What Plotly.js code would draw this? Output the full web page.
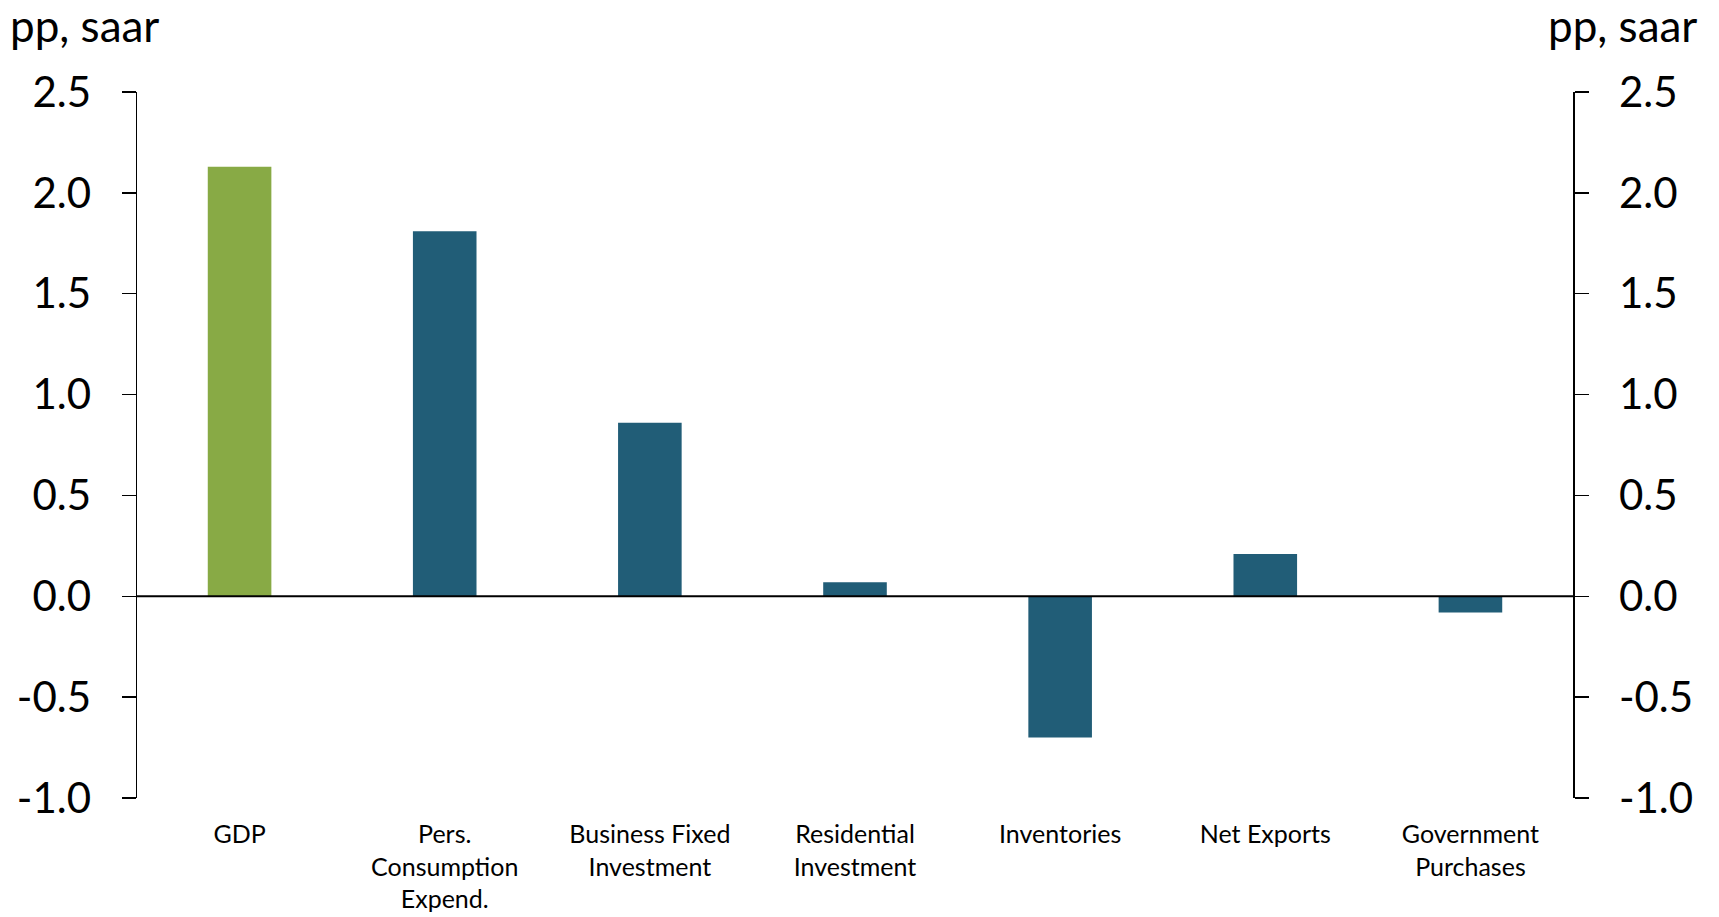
<!DOCTYPE html>
<html>
<head>
<meta charset="utf-8">
<script src="https://cdn.plot.ly/plotly-3.0.1.min.js"></script>
<style>
html,body{margin:0;padding:0;background:#fff;}
#chart{width:1719px;height:917px;}
</style>
</head>
<body>
<div id="chart"></div>
<script>
const categories = ["GDP", "Pers.<br>Consumption<br>Expend.", "Business Fixed<br>Investment", "Residential<br>Investment", "Inventories", "Net Exports", "Government<br>Purchases"];
const values = [2.13, 1.81, 0.86, 0.07, -0.70, 0.21, -0.08];
const tickVals = [-1.0, -0.5, 0.0, 0.5, 1.0, 1.5, 2.0, 2.5];
const tickText = ["-1.0", "-0.5", "0.0", "0.5", "1.0", "1.5", "2.0", "2.5"];
const unitLabel = "pp, saar";

const GREEN = "#88AA45";
const BLUE = "#215D77";
const FONT = "Lato, 'Open Sans', sans-serif";

const colors = categories.map((c, i) => i === 0 ? GREEN : BLUE);

const traces = [
  {
    type: "bar",
    x: categories,
    y: values,
    width: 0.31,
    marker: {color: colors, line: {width: 0}},
    hoverinfo: "x+y",
    yaxis: "y"
  },
  {
    type: "scatter",
    mode: "markers",
    x: categories,
    y: values,
    marker: {opacity: 0, size: 1},
    hoverinfo: "skip",
    yaxis: "y2",
    showlegend: false
  }
];

const yCommon = {
  range: [-1.0, 2.5],
  tickvals: tickVals,
  ticktext: tickText,
  ticks: "outside",
  ticklen: 14,
  tickwidth: 1.5,
  tickcolor: "#000",
  showline: true,
  linecolor: "#000",
  linewidth: 1.5,
  showgrid: false,
  zeroline: false,
  tickfont: {family: FONT, size: 42, color: "#000"},
  ticklabelstandoff: 22,
  fixedrange: true
};

const layout = {
  width: 1719,
  height: 917,
  margin: {l: 137, r: 146, t: 92, b: 119, pad: 0},
  paper_bgcolor: "#fff",
  plot_bgcolor: "#fff",
  showlegend: false,
  font: {family: FONT, color: "#000"},
  xaxis: {
    type: "category",
    range: [-0.5, 6.5],
    showline: false,
    showgrid: false,
    zeroline: false,
    ticks: "",
    tickfont: {family: FONT, size: 25, color: "#000"},
    ticklabelstandoff: 19,
    tickangle: 0,
    fixedrange: true
  },
  yaxis: Object.assign({}, yCommon, {side: "left"}),
  yaxis2: Object.assign({}, yCommon, {side: "right", overlaying: "y", anchor: "x"}),
  shapes: [
    {
      type: "line", xref: "paper", yref: "y",
      x0: 0, x1: 1, y0: 0, y1: 0,
      line: {color: "#000", width: 2}
    }
  ],
  annotations: [
    {
      text: unitLabel, xref: "paper", yref: "paper",
      x: -129/1436, y: 1 + 67/706, xanchor: "left", yanchor: "middle",
      showarrow: false, font: {family: FONT, size: 44, color: "#000"}
    },
    {
      text: unitLabel, xref: "paper", yref: "paper",
      x: 1 + 126/1436, y: 1 + 67/706, xanchor: "right", yanchor: "middle",
      showarrow: false, font: {family: FONT, size: 44, color: "#000"}
    }
  ]
};

Plotly.newPlot("chart", traces, layout, {displayModeBar: false, staticPlot: true});
</script>
</body>
</html>
